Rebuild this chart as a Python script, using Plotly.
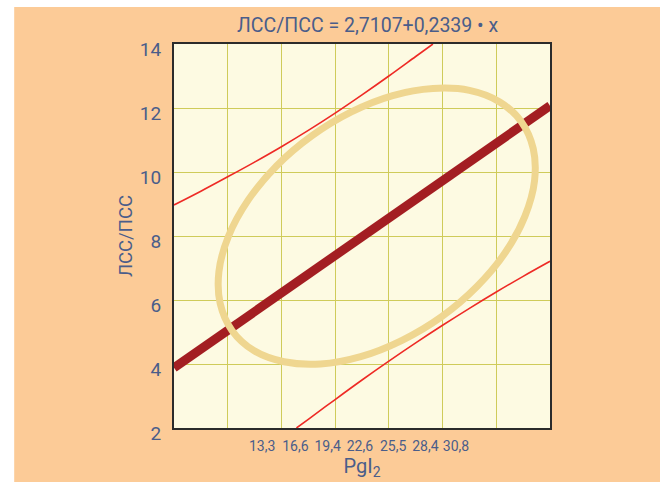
import plotly.graph_objects as go

# ---- data ----
reg_x = [5, 40]
reg_y = [3.88, 12.07]

upper_x = [5, 7.5, 10, 12.5, 15, 17.5, 20, 22.5, 25, 27.5, 29.1]
upper_y = [8.97, 9.40, 9.85, 10.31, 10.79, 11.30, 11.84, 12.41, 13.00, 13.61, 14.0]

lower_x = [16.4, 17.5, 20, 22.5, 25, 27.5, 30, 32.5, 35, 37.5, 40]
lower_y = [2.0, 2.27, 2.89, 3.50, 4.09, 4.66, 5.21, 5.74, 6.25, 6.74, 7.21]

ell_x = [37.33, 35.32, 32.50, 29.11, 25.36, 21.51, 17.82, 14.54, 11.90, 10.08, 9.18, 9.30,
         10.41, 12.43, 15.24, 18.63, 22.38, 26.23, 29.92, 33.20, 35.85, 37.67, 38.56, 38.44,
         37.33]
ell_y = [11.57, 12.19, 12.55, 12.61, 12.39, 11.88, 11.13, 10.19, 9.12, 8.00, 6.89, 5.89,
         5.04, 4.42, 4.07, 4.00, 4.23, 4.74, 5.48, 6.42, 7.49, 8.62, 9.72, 10.73,
         11.57]

# tick labels as printed, at the positions where the reference prints them
x_tick_pos = [13.2, 16.3, 19.3, 22.3, 25.4, 28.4, 31.25]
x_tick_text = ["13,3", "16,6", "19,4", "22,6", "25,5", "28,4", "30,8"]
y_tick_vals = [2, 4, 6, 8, 10, 12, 14]

title_text = "ЛСС/ПСС = 2,7107+0,2339 • x"
x_title = "PgI<sub>2</sub>"
y_title = "ЛСС/ПСС"

# ---- style ----
FONT = "Roboto, sans-serif"
TXT = "#4a5d8a"
GRID = "#cfcb5a"
ORANGE = "#fccb97"

fig = go.Figure()
fig.add_trace(go.Scatter(x=reg_x, y=reg_y, mode="lines",
                         line=dict(color="#a31e22", width=9), hoverinfo="skip"))
fig.add_trace(go.Scatter(x=ell_x, y=ell_y, mode="lines",
                         line=dict(color="#efd690", width=7, shape="spline", smoothing=1),
                         hoverinfo="skip"))
fig.add_trace(go.Scatter(x=upper_x, y=upper_y, mode="lines",
                         line=dict(color="#ee2a25", width=1.6, shape="spline"), hoverinfo="skip"))
fig.add_trace(go.Scatter(x=lower_x, y=lower_y, mode="lines",
                         line=dict(color="#ee2a25", width=1.6, shape="spline"), hoverinfo="skip"))

fig.update_layout(
    width=660, height=482,
    margin=dict(l=174, r=110, t=44, b=54),
    paper_bgcolor=ORANGE,
    plot_bgcolor="#fdfae2",
    showlegend=False,
    font=dict(family=FONT, color=TXT),
    title=dict(text=title_text, x=0.515, xref="paper", xanchor="center",
               y=1 - 25 / 482, yanchor="middle",
               font=dict(family=FONT, size=19.5, color=TXT)),
    shapes=[
        dict(type="rect", xref="paper", yref="paper", x0=-0.6, x1=-0.425, y0=-0.5, y1=1.3,
             fillcolor="white", line=dict(width=0), layer="above"),
        dict(type="rect", xref="paper", yref="paper", x0=-0.6, x1=1.5, y0=1.0964, y1=1.3,
             fillcolor="white", line=dict(width=0), layer="above"),
    ],
)

fig.update_xaxes(
    range=[5, 40], tickmode="array", tickvals=x_tick_pos, ticktext=x_tick_text,
    tickangle=0, automargin=False,
    showgrid=False, zeroline=False, ticks="",
    tickfont=dict(family=FONT, size=14, color=TXT), ticklabelstandoff=4,
    showline=True, linecolor="#2b2b2b", linewidth=2.2, mirror=True,
    minor=dict(tickmode="linear", tick0=5, dtick=5, showgrid=True,
               gridcolor=GRID, gridwidth=1.4, ticks=""),
    title=dict(text=x_title, font=dict(family=FONT, size=20, color=TXT), standoff=4),
)
fig.update_yaxes(
    range=[2, 14], tickmode="array", tickvals=y_tick_vals, automargin=False,
    showgrid=True, gridcolor=GRID, gridwidth=1.4, zeroline=False, ticks="",
    tickfont=dict(family=FONT, size=19, color=TXT),
    ticklabelshift=5, ticklabelstandoff=7,
    showline=True, linecolor="#2b2b2b", linewidth=2.2, mirror=True,
    title=dict(text=y_title, font=dict(family=FONT, size=18.5, color=TXT), standoff=2),
)

fig.write_html("out.html")
